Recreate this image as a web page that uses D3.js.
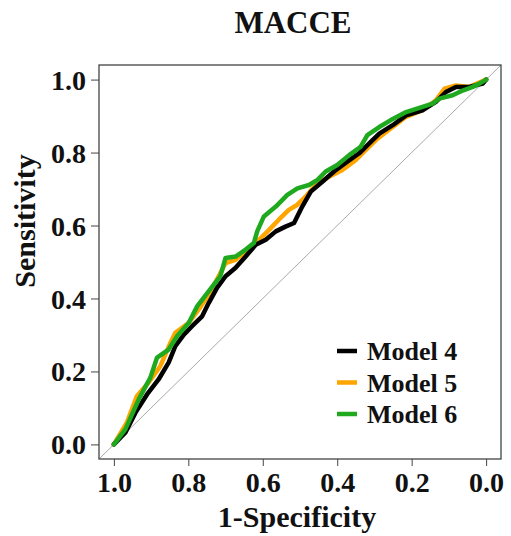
<!DOCTYPE html>
<html><head><meta charset="utf-8">
<script src="https://cdn.jsdelivr.net/npm/d3@7"></script>
<style>body{margin:0;background:#fff}svg{display:block}</style>
</head><body>
<script>
// x = specificity (axis reversed, 1 -> 0), y = sensitivity
const model4Spec = [1.0,0.969,0.942,0.911,0.880,0.853,0.835,0.812,0.790,0.763,0.745,0.723,0.700,0.673,0.646,0.619,0.592,0.565,0.539,0.516,0.494,0.471,0.440,0.404,0.373,0.341,0.314,0.287,0.251,0.215,0.171,0.135,0.108,0.081,0.045,0.009,0.0];
const model4Sens = [0.0,0.033,0.087,0.137,0.178,0.224,0.269,0.301,0.324,0.351,0.388,0.429,0.461,0.484,0.515,0.547,0.561,0.584,0.597,0.607,0.652,0.693,0.720,0.752,0.775,0.798,0.825,0.852,0.875,0.902,0.916,0.939,0.966,0.980,0.980,0.989,1.0];

const model5Spec = [1.0,0.965,0.938,0.907,0.875,0.848,0.835,0.799,0.772,0.745,0.714,0.700,0.673,0.646,0.619,0.583,0.557,0.530,0.507,0.485,0.458,0.422,0.386,0.350,0.323,0.292,0.256,0.215,0.171,0.135,0.112,0.081,0.045,0.0];
const model5Sens = [0.0,0.060,0.133,0.169,0.215,0.279,0.306,0.333,0.370,0.411,0.470,0.497,0.506,0.529,0.552,0.588,0.616,0.643,0.657,0.679,0.711,0.734,0.752,0.780,0.807,0.838,0.866,0.898,0.916,0.943,0.975,0.984,0.980,1.0];

const model6Spec = [1.0,0.969,0.933,0.902,0.884,0.853,0.830,0.799,0.776,0.745,0.714,0.700,0.673,0.646,0.624,0.615,0.597,0.565,0.534,0.507,0.476,0.453,0.431,0.400,0.368,0.337,0.319,0.287,0.256,0.215,0.171,0.144,0.126,0.090,0.063,0.036,0.018,0.0];
const model6Sens = [0.0,0.042,0.124,0.183,0.238,0.260,0.297,0.333,0.379,0.420,0.461,0.511,0.515,0.534,0.552,0.584,0.625,0.652,0.684,0.702,0.711,0.725,0.748,0.766,0.793,0.816,0.848,0.870,0.889,0.911,0.925,0.934,0.948,0.957,0.970,0.980,0.989,1.0];

const seriesNames = ["Model 4","Model 5","Model 6"];
const seriesColors = ["#000000","#FFA500","#1FA91F"];
const tickValues = [1.0,0.8,0.6,0.4,0.2,0.0];

const W = 511, H = 536;
const L = 99, R = 501, T = 65, B = 459;
const svg = d3.select("body").append("svg").attr("width", W).attr("height", H);
const font = "'Liberation Serif','Times New Roman',serif";

const x = d3.scaleLinear().domain([1.04,-0.04]).range([L,R]);
const y = d3.scaleLinear().domain([-0.04,1.04]).range([B,T]);

// diagonal reference line
svg.append("line").attr("x1", x(1.04)).attr("y1", y(-0.04)).attr("x2", x(-0.04)).attr("y2", y(1.04))
  .attr("stroke","#aaa").attr("stroke-width",1);

const line = d3.line().x(d=>x(d[0])).y(d=>y(d[1]));
const series = [
  {name:seriesNames[0], color:seriesColors[0], pts:d3.zip(model4Spec, model4Sens)},
  {name:seriesNames[1], color:seriesColors[1], pts:d3.zip(model5Spec, model5Sens)},
  {name:seriesNames[2], color:seriesColors[2], pts:d3.zip(model6Spec, model6Sens)}
];
// draw order: orange, black, green
[series[1], series[0], series[2]].forEach(s => {
  svg.append("path").datum(s.pts).attr("d", line).attr("fill","none")
    .attr("stroke", s.color).attr("stroke-width", 4.5).attr("stroke-linejoin","round").attr("stroke-linecap","round");
});

// box
svg.append("rect").attr("x",L).attr("y",T).attr("width",R-L).attr("height",B-T)
  .attr("fill","none").attr("stroke","#444").attr("stroke-width",1.3);

// axes
const xAxis = svg.append("g").attr("transform",`translate(0,${B})`)
  .call(d3.axisBottom(x).tickValues(tickValues).tickFormat(d3.format(".1f")).tickSize(7).tickPadding(6));
const yAxis = svg.append("g").attr("transform",`translate(${L},0)`)
  .call(d3.axisLeft(y).tickValues(tickValues).tickFormat(d3.format(".1f")).tickSize(8).tickPadding(5));
[xAxis,yAxis].forEach(g=>{
  g.select(".domain").remove();
  g.selectAll(".tick line").attr("stroke","#444");
  g.selectAll("text").attr("font-family",font).attr("font-weight","bold").attr("font-size",28).attr("fill","#111");
});
yAxis.selectAll("text").attr("dy","0.34em");

// title
svg.append("text").attr("x",293).attr("y",33).attr("text-anchor","middle")
  .attr("font-family",font).attr("font-weight","bold").attr("font-size",31).attr("fill","#111").text("MACCE");
// x label
svg.append("text").attr("x",297).attr("y",527).attr("text-anchor","middle")
  .attr("font-family",font).attr("font-weight","bold").attr("font-size",30).attr("fill","#111").text("1-Specificity");
// y label
svg.append("text").attr("transform","translate(35,221) rotate(-90)").attr("text-anchor","middle")
  .attr("font-family",font).attr("font-weight","bold").attr("font-size",30).attr("fill","#111").text("Sensitivity");

// legend
const leg = svg.append("g");
series.forEach((s,i)=>{
  const cy = 351 + i*31.5;
  leg.append("line").attr("x1",337).attr("x2",357).attr("y1",cy).attr("y2",cy)
    .attr("stroke",s.color).attr("stroke-width",4.5);
  leg.append("text").attr("x",367).attr("y",cy+9).attr("font-family",font).attr("font-weight","bold")
    .attr("font-size",26).attr("fill","#111").text(s.name);
});
</script>
</body></html>
